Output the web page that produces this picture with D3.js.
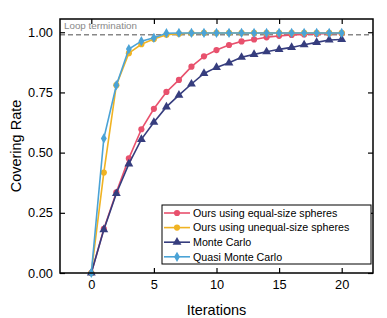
<!DOCTYPE html>
<html>
<head>
<meta charset="utf-8">
<script src="https://cdn.jsdelivr.net/npm/d3@7"></script>
<style>
  body { margin: 0; background: #fff; }
  text { font-family: "Liberation Sans", Arial, sans-serif; }
</style>
</head>
<body>
<div id="chart"></div>
<script>
const iterations = d3.range(0, 21);
const seriesNames = ["Ours using equal-size spheres", "Ours using unequal-size spheres", "Monte Carlo", "Quasi Monte Carlo"];
const equalSize = [0, 0.183, 0.335, 0.476, 0.597, 0.682, 0.752, 0.802, 0.857, 0.900, 0.926, 0.947, 0.962, 0.970, 0.979, 0.985, 0.989, 0.991, 0.993, 0.995, 0.995];
const unequalSize = [0, 0.417, 0.780, 0.913, 0.950, 0.972, 0.990, 0.994, 0.996, 0.997, 0.997, 0.997, 0.997, 0.997, 0.997, 0.997, 0.997, 0.997, 0.997, 0.997, 0.997];
const monteCarlo = [0, 0.180, 0.330, 0.453, 0.555, 0.626, 0.690, 0.739, 0.785, 0.829, 0.854, 0.873, 0.896, 0.908, 0.919, 0.929, 0.937, 0.948, 0.958, 0.968, 0.970];
const quasiMonteCarlo = [0, 0.559, 0.780, 0.930, 0.963, 0.977, 0.996, 0.997, 0.997, 0.997, 0.997, 0.997, 0.997, 0.997, 0.997, 0.997, 0.997, 0.997, 0.997, 0.997, 0.997];
const xTicks = [0, 5, 10, 15, 20];
const yTicks = [0, 0.25, 0.5, 0.75, 1.0];
const terminationLevel = 0.99;

const width = 387, height = 318;
const marginTop = 19, marginRight = 14, marginBottom = 45, marginLeft = 60;

const x = d3.scaleLinear([-2.5, 22.5], [marginLeft, width - marginRight]);
const y = d3.scaleLinear([0, 1.055], [height - marginBottom, marginTop]);

const colors = ["#e8516d", "#f0b323", "#363d7e", "#4ba3d6"];
const symbols = [d3.symbolCircle, d3.symbolCircle, d3.symbolTriangle, d3.symbolDiamond];
const symbolSizes = [30, 30, 34, 30];
const allSeries = [equalSize, unequalSize, monteCarlo, quasiMonteCarlo];

const svg = d3.select("#chart").append("svg")
    .attr("width", width)
    .attr("height", height)
    .attr("viewBox", [0, 0, width, height]);

// axes with inward ticks, mirrored on top/right
const tick = 5;
svg.append("g")
    .attr("transform", `translate(0,${height - marginBottom})`)
    .call(d3.axisBottom(x).tickValues(xTicks).tickSizeInner(-tick).tickSizeOuter(0).tickPadding(7))
    .call(g => g.select(".domain").remove())
    .call(g => g.selectAll("text").attr("font-size", 12.8).attr("fill", "#000"));
svg.append("g")
    .attr("transform", `translate(0,${marginTop})`)
    .call(d3.axisTop(x).tickValues(xTicks).tickSizeInner(-tick).tickSizeOuter(0).tickFormat(""))
    .call(g => g.select(".domain").remove());
svg.append("g")
    .attr("transform", `translate(${marginLeft},0)`)
    .call(d3.axisLeft(y).tickValues(yTicks).tickFormat(d3.format(".2f")).tickSizeInner(-tick).tickSizeOuter(0).tickPadding(7))
    .call(g => g.select(".domain").remove())
    .call(g => g.selectAll("text").attr("font-size", 12.8).attr("fill", "#000"));
svg.append("g")
    .attr("transform", `translate(${width - marginRight},0)`)
    .call(d3.axisRight(y).tickValues(yTicks).tickSizeInner(-tick).tickSizeOuter(0).tickFormat(""))
    .call(g => g.select(".domain").remove());
svg.selectAll(".tick line").attr("stroke", "#000").attr("stroke-width", 1.2);

// termination line
svg.append("line")
    .attr("x1", marginLeft).attr("x2", width - marginRight)
    .attr("y1", y(terminationLevel)).attr("y2", y(terminationLevel))
    .attr("stroke", "#888").attr("stroke-width", 1.5).attr("stroke-dasharray", "5,3");
svg.append("text")
    .attr("x", marginLeft + 4).attr("y", marginTop + 10)
    .attr("font-size", 9.8).attr("fill", "#888")
    .text("Loop termination");

const line = d3.line().x((d, i) => x(iterations[i])).y(d => y(d));

allSeries.forEach((values, k) => {
    const g = svg.append("g");
    g.append("path")
        .attr("d", line(values))
        .attr("fill", "none")
        .attr("stroke", colors[k])
        .attr("stroke-width", 1.6);
    g.selectAll("path.m").data(values).join("path")
        .attr("class", "m")
        .attr("transform", (d, i) => `translate(${x(iterations[i])},${y(d)})`)
        .attr("d", d3.symbol(symbols[k], symbolSizes[k]))
        .attr("fill", colors[k]);
});

// frame
svg.append("rect")
    .attr("x", marginLeft).attr("y", marginTop)
    .attr("width", width - marginLeft - marginRight)
    .attr("height", height - marginTop - marginBottom)
    .attr("fill", "none").attr("stroke", "#000").attr("stroke-width", 1.5);

// legend
const legend = svg.append("g").attr("transform", "translate(162,205)");
legend.append("rect")
    .attr("width", 209).attr("height", 59)
    .attr("fill", "#fff").attr("stroke", "#000").attr("stroke-width", 1);
seriesNames.forEach((name, k) => {
    const ly = 8 + k * 14.6;
    legend.append("line").attr("x1", 2).attr("x2", 28).attr("y1", ly).attr("y2", ly)
        .attr("stroke", colors[k]).attr("stroke-width", 1.6);
    legend.append("path").attr("transform", `translate(15,${ly})`)
        .attr("d", d3.symbol(symbols[k], symbolSizes[k])).attr("fill", colors[k]);
    legend.append("text").attr("x", 31).attr("y", ly).attr("dy", "0.35em")
        .attr("font-size", 10.7).attr("fill", "#000").text(name);
});

// axis titles
svg.append("text")
    .attr("x", x(10)).attr("y", 315)
    .attr("text-anchor", "middle").attr("font-size", 14.5)
    .text("Iterations");
svg.append("text")
    .attr("transform", `translate(21,${(marginTop + height - marginBottom) / 2}) rotate(-90)`)
    .attr("text-anchor", "middle").attr("font-size", 14.5)
    .text("Covering Rate");
</script>
</body>
</html>
